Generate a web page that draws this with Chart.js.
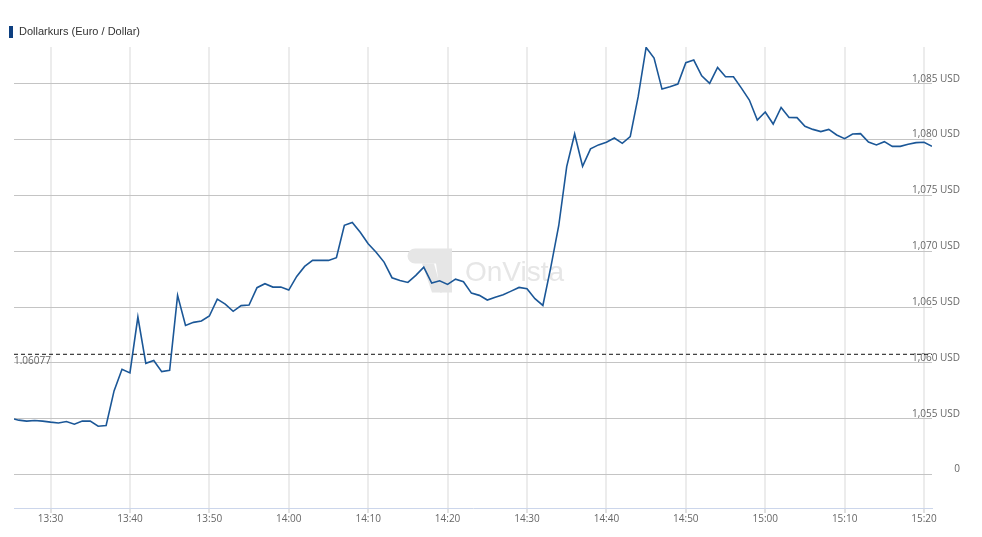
<!DOCTYPE html>
<html>
<head>
<meta charset="utf-8">
<script src="https://cdn.jsdelivr.net/npm/chart.js@4.4.0/dist/chart.umd.min.js"></script>
<style>
  html, body { margin: 0; padding: 0; background: #fff; }
  #wrap { position: relative; width: 982px; height: 537px; }
  #title { position: absolute; left: 9px; top: 25px; padding-left: 10px; line-height: 14px;
           font: 11px "Liberation Sans", Arial, sans-serif; color: #333; }
  #title:before { content: ""; position: absolute; left: 0; top: 1px; width: 4px; height: 12px; background: #0d3f80; }
</style>
</head>
<body>
<div id="wrap">
  <canvas id="chart" width="982" height="537"></canvas>
  <div id="title">Dollarkurs (Euro / Dollar)</div>
</div>
<script>
// Kurszeitpunkte (Uhrzeit) und Kurse
const times = [
  "13:25:24","13:26","13:27","13:28","13:29","13:30","13:31","13:32","13:33","13:34",
  "13:35","13:36","13:37","13:38","13:39","13:40","13:41","13:42","13:43","13:44",
  "13:45","13:46","13:47","13:48","13:49","13:50","13:51","13:52","13:53","13:54",
  "13:55","13:56","13:57","13:58","13:59","14:00","14:01","14:02","14:03","14:04",
  "14:05","14:06","14:07","14:08","14:09","14:10","14:11","14:12","14:13","14:14",
  "14:15","14:16","14:17","14:18","14:19","14:20","14:21","14:22","14:23","14:24",
  "14:25","14:26","14:27","14:28","14:29","14:30","14:31","14:32","14:33","14:34",
  "14:35","14:36","14:37","14:38","14:39","14:40","14:41","14:42","14:43","14:44",
  "14:45","14:46","14:47","14:48","14:49","14:50","14:51","14:52","14:53","14:54",
  "14:55","14:56","14:57","14:58","14:59","15:00","15:01","15:02","15:03","15:04",
  "15:05","15:06","15:07","15:08","15:09","15:10","15:11","15:12","15:13","15:14",
  "15:15","15:16","15:17","15:18","15:19","15:20","15:21"
];
const rates = [
  1.05498,1.05487,1.05478,1.05484,1.05478,1.05469,1.05462,1.05475,1.05451,1.05480,
  1.05478,1.05433,1.05439,1.05749,1.05943,1.05910,1.06411,1.05996,1.06021,1.05922,
  1.05934,1.06605,1.06336,1.06363,1.06375,1.06420,1.06572,1.06527,1.06462,1.06513,
  1.06518,1.06674,1.06709,1.06679,1.06679,1.06652,1.06775,1.06864,1.06918,1.06918,
  1.06918,1.06942,1.07233,1.07258,1.07171,1.07067,1.06992,1.06903,1.06763,1.06739,
  1.06721,1.06784,1.06858,1.06715,1.06736,1.06703,1.06750,1.06727,1.06625,1.06605,
  1.06563,1.06589,1.06611,1.06643,1.06676,1.06665,1.06575,1.06515,1.06858,1.07231,
  1.07758,1.08051,1.07761,1.07917,1.07953,1.07976,1.08015,1.07967,1.08027,1.08385,
  1.08826,1.08731,1.08453,1.08474,1.08498,1.08689,1.08713,1.08572,1.08504,1.08647,
  1.08564,1.08564,1.08462,1.08355,1.08176,1.08248,1.08140,1.08289,1.08199,1.08197,
  1.08119,1.08092,1.08072,1.08092,1.08042,1.08009,1.08051,1.08054,1.07979,1.07953,
  1.07982,1.07940,1.07940,1.07958,1.07973,1.07976,1.07940
];
const xTickLabels = ["13:30","13:40","13:50","14:00","14:10","14:20","14:30","14:40","14:50","15:00","15:10","15:20"];
const yTicks = [1.050, 1.055, 1.060, 1.065, 1.070, 1.075, 1.080, 1.085];
const yTickLabels = ["0","1,055 USD","1,060 USD","1,065 USD","1,070 USD","1,075 USD","1,080 USD","1,085 USD"];
const refValue = 1.06077;
const refLabel = "1.06077";
const yMin = 1.047, yMax = 1.0883;

// Minuten ab 13:30
function toMinutes(t) {
  const p = t.split(':').map(Number);
  return p[0] * 60 + p[1] + (p[2] || 0) / 60 - 810;
}
const points = times.map((t, i) => ({ x: toMinutes(t), y: rates[i] }));
const xTicks = xTickLabels.map(toMinutes);
const xMin = points[0].x, xMax = points[points.length - 1].x;

const refLabelPlugin = {
  id: 'refLabel',
  afterDatasetsDraw(chart) {
    const ctx = chart.ctx;
    const y = chart.scales.y.getPixelForValue(refValue);
    ctx.save();
    ctx.font = '10px "Open Sans"';
    ctx.fillStyle = '#666';
    ctx.textBaseline = 'middle';
    ctx.textAlign = 'left';
    ctx.fillText(refLabel, chart.chartArea.left, y + 7);
    ctx.restore();
  }
};

const watermark = {
  id: 'watermark',
  beforeDatasetsDraw(chart) {
    const ctx = chart.ctx;
    const a = chart.chartArea;
    const cx = (a.left + a.right) / 2, cy = (a.top + a.bottom) / 2;
    ctx.save();
    ctx.fillStyle = '#e6e6e6';
    // Logo
    const lx = cx - 65, ly = cy - 29;
    ctx.beginPath();
    ctx.moveTo(lx + 7, ly);
    ctx.lineTo(lx + 44, ly);
    ctx.lineTo(lx + 44, ly + 44);
    ctx.lineTo(lx + 32, ly + 44);
    ctx.lineTo(lx + 28, ly + 15);
    ctx.lineTo(lx + 7, ly + 15);
    ctx.arc(lx + 7, ly + 7.5, 7.5, Math.PI / 2, Math.PI * 1.5);
    ctx.fill();
    ctx.beginPath();
    ctx.moveTo(lx + 14, ly + 15);
    ctx.lineTo(lx + 26, ly + 15);
    ctx.lineTo(lx + 34, ly + 44);
    ctx.lineTo(lx + 24, ly + 44);
    ctx.fill();
    // Schrift
    ctx.font = '28px "Liberation Sans"';
    ctx.textBaseline = 'alphabetic';
    ctx.fillText('OnVista', cx - 8, cy + 3);
    ctx.restore();
  }
};

new Chart(document.getElementById('chart'), {
  type: 'line',
  data: {
    datasets: [
      { data: points, borderColor: '#1b5797', borderWidth: 1.6, pointRadius: 0, tension: 0, fill: false },
      { data: [{ x: xMin, y: refValue }, { x: xMax, y: refValue }], borderColor: '#111', borderWidth: 1,
        borderDash: [4, 3], pointRadius: 0, fill: false }
    ]
  },
  options: {
    responsive: false,
    animation: false,
    events: [],
    layout: { padding: { left: 14, top: 47, right: 0, bottom: 0 } },
    plugins: { legend: { display: false }, tooltip: { enabled: false } },
    scales: {
      x: {
        type: 'linear', min: xMin, max: xMax,
        afterBuildTicks: s => { s.ticks = xTicks.map(v => ({ value: v })); },
        afterFit: s => { s.height = 29; },
        grid: { color: '#ececec', lineWidth: 2, tickLength: 5, tickColor: '#e2e2e2' },
        border: { color: '#ccd6eb', width: 1 },
        ticks: { font: { family: 'Open Sans', size: 10 }, color: '#666', padding: 0, maxRotation: 0,
                 callback: (v, i) => xTickLabels[i] }
      },
      y: {
        position: 'right', min: yMin, max: yMax,
        afterBuildTicks: s => { s.ticks = yTicks.map(v => ({ value: v })); },
        afterFit: s => { s.width = 50; s.paddingTop = 0; s.paddingBottom = 0; },
        grid: { color: '#c4c4c4', lineWidth: 1, drawTicks: false },
        border: { display: false },
        ticks: { mirror: true, padding: 28, crossAlign: 'near', labelOffset: -5,
                 font: { family: 'Open Sans', size: 10 }, color: '#666',
                 callback: (v, i) => yTickLabels[i] }
      }
    }
  },
  plugins: [refLabelPlugin, watermark]
});
</script>
</body>
</html>
